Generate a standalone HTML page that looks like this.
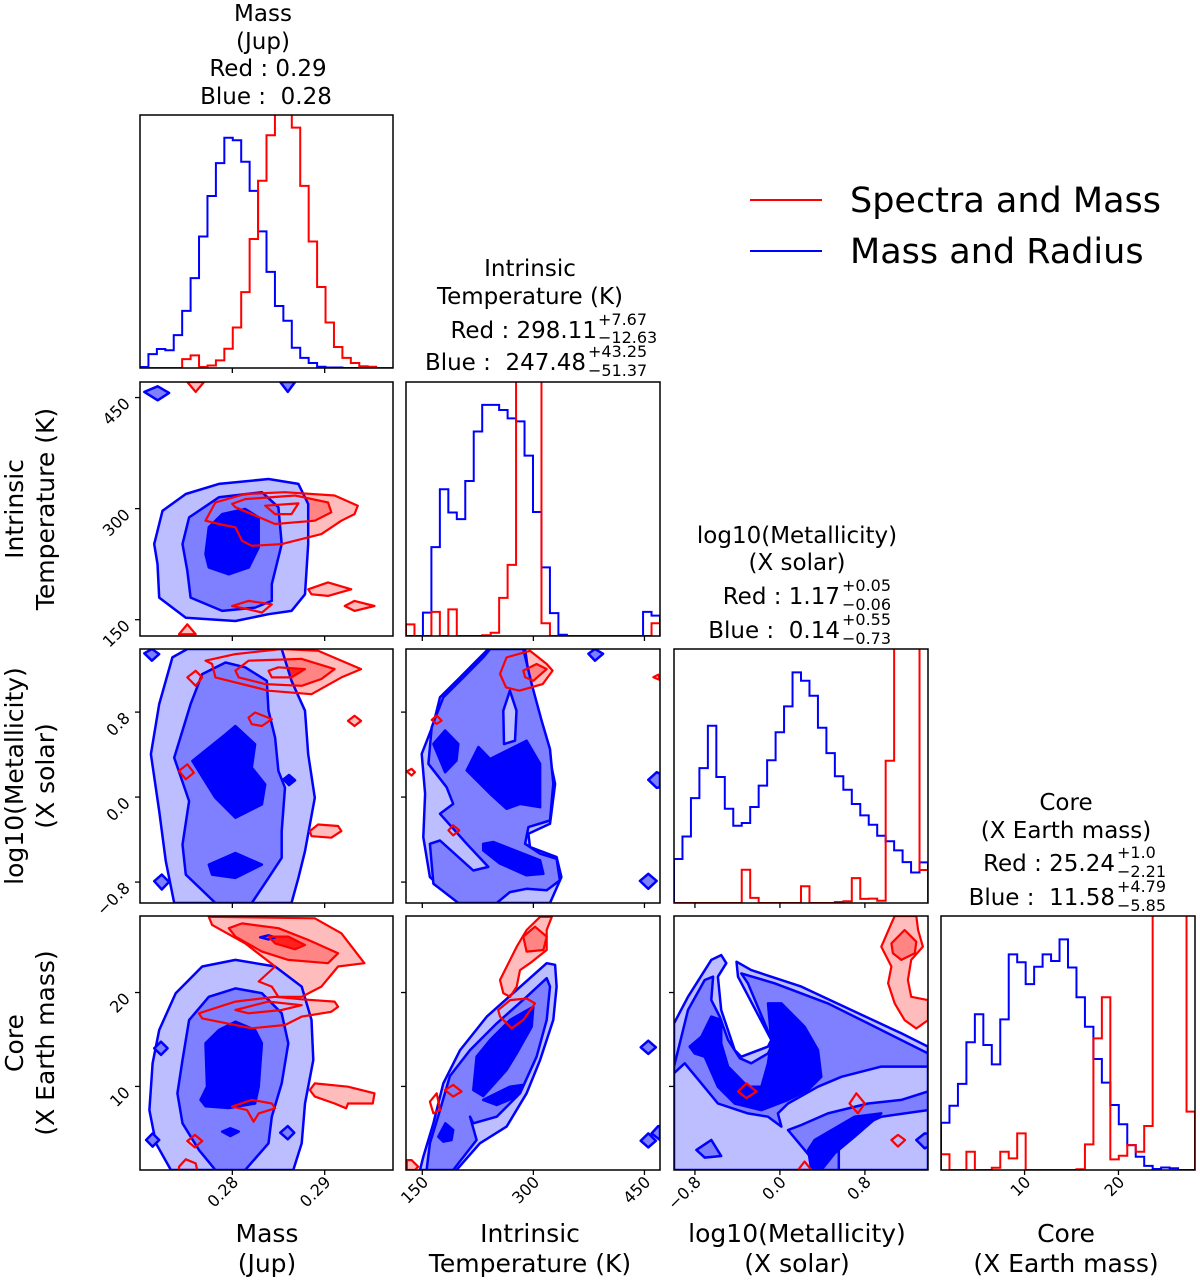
<!DOCTYPE html>
<html><head><meta charset="utf-8"><style>
html,body{margin:0;padding:0;background:#fff}
svg{display:block;font-family:"DejaVu Sans","Liberation Sans",sans-serif}
text{white-space:pre}
</style></head><body>
<svg id="fig" width="1200" height="1281" viewBox="0 0 1200 1281" xmlns="http://www.w3.org/2000/svg">
<g id="marks"></g>
<g id="frames"></g>
<g id="texts" font-size="23" fill="#000">
 <g text-anchor="middle">
  <text x="263" y="21">Mass</text><text x="263" y="49">(Jup)</text>
  <text x="268" y="76">Red : 0.29</text><text x="266" y="104">Blue :  0.28</text>
 </g>
 <g>
  <text x="530" y="276" text-anchor="middle">Intrinsic</text>
  <text x="530" y="304" text-anchor="middle">Temperature (K)</text>
  <text x="597" y="338" text-anchor="end">Red : 298.11</text>
  <text x="598" y="325" font-size="16">+7.67</text><text x="598" y="343" font-size="16">−12.63</text>
  <text x="586" y="370" text-anchor="end">Blue :  247.48</text>
  <text x="588" y="357" font-size="16">+43.25</text><text x="588" y="376" font-size="16">−51.37</text>
 </g>
 <g>
  <text x="797" y="543" text-anchor="middle">log10(Metallicity)</text>
  <text x="797" y="570" text-anchor="middle">(X solar)</text>
  <text x="840" y="604" text-anchor="end">Red : 1.17</text>
  <text x="842" y="591" font-size="16">+0.05</text><text x="842" y="610" font-size="16">−0.06</text>
  <text x="840" y="638" text-anchor="end">Blue :  0.14</text>
  <text x="842" y="625" font-size="16">+0.55</text><text x="842" y="644" font-size="16">−0.73</text>
 </g>
 <g>
  <text x="1066" y="810" text-anchor="middle">Core</text>
  <text x="1066" y="838" text-anchor="middle">(X Earth mass)</text>
  <text x="1115" y="871" text-anchor="end">Red : 25.24</text>
  <text x="1117" y="858" font-size="16">+1.0</text><text x="1117" y="877" font-size="16">−2.21</text>
  <text x="1115" y="905" text-anchor="end">Blue :  11.58</text>
  <text x="1117" y="892" font-size="16">+4.79</text><text x="1117" y="911" font-size="16">−5.85</text>
 </g>
 <g font-size="25" text-anchor="middle">
  <g><text x="267" y="1242">Mass</text><text x="267" y="1272">(Jup)</text></g>
  <g><text x="530" y="1242">Intrinsic</text><text x="530" y="1272">Temperature (K)</text></g>
  <g><text x="797" y="1242">log10(Metallicity)</text><text x="797" y="1272">(X solar)</text></g>
  <g><text x="1066" y="1242">Core</text><text x="1066" y="1272">(X Earth mass)</text></g>
  <g><text transform="translate(23,509) rotate(-90)">Intrinsic</text><text transform="translate(54,509) rotate(-90)">Temperature (K)</text></g>
  <g><text transform="translate(23,776) rotate(-90)">log10(Metallicity)</text><text transform="translate(54,776) rotate(-90)">(X solar)</text></g>
  <g><text transform="translate(23,1043) rotate(-90)">Core</text><text transform="translate(54,1043) rotate(-90)">(X Earth mass)</text></g>
 </g>
 <g font-size="35">
  <g><line x1="750" y1="200" x2="822" y2="200" stroke="#ff0000" stroke-width="2"/><text x="850" y="212">Spectra and Mass</text></g>
  <g><line x1="750" y1="251" x2="822" y2="251" stroke="#0000ff" stroke-width="2"/><text x="850" y="263">Mass and Radius</text></g>
 </g>
</g>
</svg>
<script>
// ---- data ----
const massRange=[0.2700,0.2974];
const tempRange=[128,471];
const metalRange=[-0.997,1.394];
const coreRange=[1.1,28.15];
const massTicks=[0.28,0.29];
const massTickLabels=["0.28","0.29"];
const tempTicks=[150,300,450];
const tempTickLabels=["150","300","450"];
const metalTicks=[-0.8,0.0,0.8];
const metalTickLabels=["−0.8","0.0","0.8"];
const coreTicks=[10,20];
const coreTickLabels=["10","20"];
const massBlue=[0.004,0.055,0.075,0.07,0.13,0.226,0.355,0.52,0.68,0.81,0.91,0.9,0.815,0.70,0.54,0.38,0.245,0.187,0.08,0.04,0.02,0.005,0.002,0.002,0,0,0,0,0,0];
const massRed=[0,0,0,0,0,0.035,0.05,0.004,0.01,0.03,0.076,0.16,0.3,0.51,0.74,0.92,1.05,1.05,0.95,0.72,0.5,0.32,0.18,0.083,0.04,0.02,0.007,0.005,0,0];
const tempBlue=[0,0,0.092,0.35,0.578,0.486,0.46,0.61,0.805,0.91,0.91,0.89,0.857,0.845,0.71,0.488,0.27,0.09,0.005,0,0,0,0,0,0,0,0,0,0.095,0.08];
const tempRed=[0.046,0,0,0.095,0,0.105,0,0,0,0.003,0.013,0.15,0.28,1.05,1.05,1.05,0.05,0,0,0,0,0,0,0,0,0,0,0,0,0.05];
const metalBlue=[0.173,0.262,0.413,0.531,0.698,0.496,0.371,0.304,0.315,0.378,0.462,0.562,0.672,0.774,0.908,0.875,0.816,0.69,0.59,0.499,0.446,0.39,0.345,0.308,0.265,0.243,0.207,0.161,0.12,0.16];
const metalRed=[0,0,0,0,0,0,0,0,0.131,0.02,0,0,0,0,0,0.066,0,0,0,0.004,0.007,0.098,0.016,0.017,0.009,0.56,1.05,1.05,1.05,0.13];
const coreBlue=[0.186,0.253,0.339,0.503,0.613,0.492,0.416,0.593,0.849,0.818,0.732,0.8,0.849,0.823,0.908,0.797,0.68,0.564,0.437,0.344,0.256,0.18,0.098,0.052,0.016,0.004,0.01,0.007,0,0];
const coreRed=[0.062,0,0,0.072,0,0,0.009,0.072,0.046,0.144,0,0,0,0,0,0,0.003,0.101,0.518,0.68,0.042,0.056,0.098,0.072,0.173,1.05,1.05,1.05,1.05,0.23];
// contour vertices in axis-normalised percent units (x from left, y from top of each variable range)
const contourMT=[
 ['rL',[25.9,54.6,29.8,47.4,41.6,44.1,57.3,43.4,76.9,44.7,86.1,48.7,84.8,52,79.6,54.6,71.7,59.9,56,63.8,44.2,64.5,40.3,62.5,37.7,57.2,31.2,55.9]],
 ['rM',[36.4,48,41.6,46.1,61.3,44.7,74.3,47.4,75.6,51.3,69.1,54.6,53.4,55.9,37.7,49.3]],
 ['rL',[49.5,48.7,62.6,47.8,59.9,52,53.4,52]],
 ['rL',[66.5,81.6,74.3,78.9,83.5,81.6,74.3,84.2,67.8,83.6]],
 ['rL',[80.9,88.2,84.8,86.2,92.7,88.2,84.8,90.1]],
 ['rN',[36.4,88.2,42.9,86.2,52.1,87.5,48.2,90.8,42.9,89.5]],
 ['rL',[18.7,0,25.3,0,22,3.9]],
 ['rL',[15.4,99.3,18.7,95.4,22,99.3]],
 ['bL',[5.6,63.8,7.6,55.9,8.9,50.7,18.1,44.1,31.2,40.1,50.8,38.2,62.6,40.1,66.5,48,66.5,63.8,65.2,83.6,59.9,90.1,50.8,91.4,37.7,94.1,18.1,92.8,7.6,84.9,6.9,71.7]],
 ['bM',[16.8,63.8,19.4,53.3,31.2,45.4,48.2,43.4,54.7,49.3,56,63.8,52.1,79.6,52.1,86.2,45.5,88.8,32.5,90.1,20,84.9,18.7,74.3]],
 ['bD',[25.9,67.8,27.2,57.2,32.5,52,41.6,50,46.9,53.3,46.9,65.1,43,73,35.1,75.7,27.2,73]],
 ['bM',[1.7,3.9,7,1.7,11.5,4.3,7,7.2]],
 ['bM',[55.4,0,61.3,0,58.4,3.9]]
];
const contourMZ=[
 ['rL',[25.9,4.6,37.7,2,56,0,70.4,0.7,87.4,7.9,79.6,11.2,67.8,17.8,50.8,16.4,29.8,11.2,28.5,5.9]],
 ['rM',[37.7,8.6,42.9,4.6,63.9,3.9,76.9,7.9,71.7,11.8,63.9,14.5,49.5,13.8,39,11.2]],
 ['rD',[50.8,8.6,54.7,7.2,65.2,7.9,59.9,11.2,52.1,11.2]],
 ['rN',[18.7,11.2,22,8.6,24.6,11.2,22,14.5]],
 ['rL',[42.9,27,45.5,25,52.1,27.6,48.2,30.3,44.2,29.6]],
 ['rL',[82.2,28.3,84.8,26.3,87.4,28.3,84.8,30.3]],
 ['rN',[15.4,48,18.7,45.4,21.3,48.7,18.1,51.3]],
 ['rL',[67.1,71.7,70.4,69.1,78.3,69.7,79.6,71.7,75.6,74.3,67.8,73.7]],
 ['bL',[13.5,100,10.2,83.6,7.6,63.8,4.3,41.4,7.6,21.7,12.8,3.3,18.7,0,56,0,59.9,12.5,65.2,24.3,66.5,41.4,69.1,58.6,65.2,79.6,62.6,90.1,59.9,100]],
 ['bM',[29.8,100,18.1,88.8,16.8,77,19.4,59.9,13.5,42.8,20,21.7,24.6,9.9,33.8,5.3,41.6,7.2,50.1,12.5,50.8,24.3,53.4,34.9,54.7,48,57.3,54.6,56,71.7,56,82.2,50.8,90.1,44.2,100]],
 ['bD',[20.7,44.1,33.8,33.6,37.7,30.3,45.5,37.5,44.2,46.7,49.5,53.3,48.2,61.2,37.7,66.4,29.8,58.6]],
 ['bD',[27.2,84.9,37.7,80.3,48.2,84.9,37.7,90.1,28.5,88.8]],
 ['bM',[1.7,1.7,4.7,0,7.6,2,4.7,4.6]],
 ['bM',[5.6,91.4,8.6,88.8,11.5,91.7,8.6,94.7]],
 ['bD',[56.7,51.3,58.9,49.6,61.3,51.7,58.9,53.6]]
];
const contourTZ=[
 ['rL',[37,9.8,39.6,3.3,48.8,0.7,55.4,5.9,57.7,8.5,53.8,13.8,44.6,16.4,39.4,15.1]],
 ['rM',[46.2,8.5,51.4,5.9,55.4,7.9,50.1,12.5,46.9,11.1]],
 ['rN',[10.1,27.9,12.1,26.2,14,28.2,12.1,29.5]],
 ['rN',[0.3,48.2,2.2,47.2,3.5,48.5,2.2,49.8]],
 ['rN',[16.7,71.4,18.6,69.4,21,71.4,18.6,73.4]],
 ['rN',[97.4,11.1,99.3,10.1,100,12.2]],
 ['bL',[20.6,100,9.4,89.8,6.8,74.1,7.5,57,6.2,41.3,10.8,29.5,13.4,19,21.3,11.2,29.1,3.3,32.4,0,46.9,0,48.8,13.8,52.8,26.9,55.4,37.4,58.7,53.1,56.7,68.8,48.2,72.7,48.8,78,59.3,81.9,61.2,89.8,56.7,100]],
 ['bM',[20.6,100,10.8,92.4,9.4,76.7,13.4,75.4,26.5,87.2,32.4,85.8,23.9,76.7,13.4,64.9,18.6,61,16,54.4,8.8,45.2,10.1,30.8,14.7,19,22.6,11.2,30.4,3.3,33.1,0,46.2,0,49.5,13.8,53.4,28.2,56.7,39.4,58,53,56.7,67.5,48.2,70.1,46.9,76.7,52.8,80.6,59.3,82.6,60.6,91.1,55.4,95,47.5,94.4,40.9,95.7,35.7,100]],
 ['bL',[38.3,24.3,40.9,16.4,43.5,24.3,42.9,36.1,38.6,37.4]],
 ['bD',[10.8,37.4,15.4,32.1,20.6,37.4,19.9,43.9,15.4,48.5]],
 ['bD',[23.9,47.8,28.5,38.6,33.1,43.3,47.5,36.1,52.8,45.2,52.8,62.3,44.9,61,39.6,62.9,33.1,57,26.5,50.4]],
 ['bD',[30.4,76.7,34.4,76,52.8,83.2,54.1,88.5,47.5,89.1,37,84.5,30.4,79.3]],
 ['bM',[71.8,1.9,74.4,0,77.6,1.9,74.4,4.6]],
 ['bM',[95.4,51.5,98.7,48.5,100,49.1,100,54.4,98.7,54.7]],
 ['bM',[92.1,91.3,95.4,88.5,98.7,91.3,95.4,94.4]]
];
const contourMC=[
 ['rL',[27.2,0.3,69.1,0.9,79.6,6.8,88.7,18.6,78.3,19.9,71.7,27.8,63.9,31.8,54.7,31.8,52.1,27.8,46.9,25.8,53.4,19.9,41.6,10.8,28.5,3.5]],
 ['rM',[35.1,4.8,40.3,2.9,54.7,4.8,66.5,9.4,78.3,14.7,74.3,18.6,58.6,17.3,48.2,14,37.7,8.1]],
 ['rD',[50.8,8.1,58.6,8.1,65.2,11.4,61.3,13.1,53.4,10.8]],
 ['rL',[23.3,38.3,37.7,33.7,53.4,31.8,63.9,32.8,76.9,33.7,78.3,35.7,75.6,37.7,63.9,39.6,57.3,42.9,44.2,44.2,24.6,40.3]],
 ['rN',[37.7,37,50.8,33.7,63.9,35.1,56,37,42.9,38.3]],
 ['rL',[67.1,68.5,69.1,65.9,82.2,67.2,92.7,69.8,92,73.8,82.2,73.8,81.5,75.7,76.9,73.8,69.1,71.1]],
 ['rN',[36.4,75,44.2,72.4,52.1,73.8,53.4,75.7,46.9,77.7,44.9,81,42.3,76.4]],
 ['rN',[18.7,88.6,21.7,86.2,24.6,88.6,21.7,91.1]],
 ['rL',[15.4,98.7,18.1,95.8,22,97.4,22.6,100,15.4,100]],
 ['bL',[12.2,100,6.3,89.5,3.7,76.4,5,58,7.6,44.9,14.1,30.4,24.6,19.9,37.7,17.3,53.4,19.9,63.9,27.8,67.8,40.9,68.5,56.7,65.2,73.8,63.9,89.5,60.6,100]],
 ['bM',[29.8,100,23.3,92.1,16.8,81.6,14.8,69.8,16.8,56.7,19.4,41,27.2,31.8,37.7,28.5,48.2,30.4,56,38.3,58.6,50.1,56,65.9,52.1,79,50.8,89.5,41.6,100]],
 ['bD',[23.9,72.4,26.5,67.2,25.9,50.1,31.2,44.9,37.7,41.6,45.5,44.9,48.2,50.1,46.9,67.2,45.5,73.8,35.1,75.6,25.9,74.9]],
 ['bD',[32.5,84.9,35.7,83.6,39,84.9,35.7,86.6]],
 ['bM',[5.6,52.1,8.3,49.5,10.9,52.1,8.3,54.7]],
 ['bM',[2.4,88.2,5,85.6,7.6,88.2,5,90.8]],
 ['bM',[55.4,85.3,58.4,82.7,61,85.3,58.4,87.9]],
 ['bM',[47.5,8.4,50.8,7.6,53.4,8.4,50.8,9.2]]
];
const contourTC=[
 ['rL',[37,25.2,43.6,12.1,47.5,5.5,52.8,0.3,57.4,0.3,55.4,5.5,55.4,13.4,48.8,18.6,44.9,21.3,43.6,27.8,41,31.8,38.3,30.4]],
 ['rM',[46.2,8.1,50.8,4.2,55.4,8.1,54.1,13.4,47.5,14]],
 ['rN',[36.3,37,41,33.1,47.5,32.5,50.8,34.4,46.2,40.9,41.6,44.2,37,39.6]],
 ['rN',[15.3,68.5,18.6,66.5,21.9,69.1,18.6,71.1]],
 ['rN',[9.4,73.1,12.1,69.8,13.4,76.4,10.8,77.7]],
 ['rL',[0.3,96.1,2.2,96.1,4.8,98.7,3.5,100,0.3,100]],
 ['bL',[5.5,100,6.8,94.8,10.8,81.6,14.7,65.9,21.3,52.8,31.8,39.6,43.6,29.1,55.4,18.6,58.7,19.2,59.3,27.8,58,40.9,52.8,56.7,47.5,69.8,39.6,82.9,29.1,89.5,19.9,100]],
 ['bM',[8.1,100,9.4,89.5,13.4,76.4,17.3,63,25.2,52.8,35.7,42.3,47.5,31.8,55.4,24.5,56.7,27.8,55.4,40.9,51.4,55.4,44.9,69.8,35.7,79,26.5,81.6,25.2,79,27.8,88.2,18.6,100]],
 ['bD',[26.5,68.5,27.8,55.4,33.1,48.8,41,40.9,50.1,35.7,49.5,43.6,43.6,54.1,39.6,60.6,30.4,70.9]],
 ['bD',[30.4,72.4,40.9,67.2,46.2,66.5,43.6,71.1,35.7,74.4]],
 ['bD',[12.7,86.9,15.5,81.6,18.6,84.3,17.9,88.2,14.7,88.8]],
 ['bM',[92.4,51.7,95.4,49.1,98.4,51.7,95.4,54.3]],
 ['bM',[92.4,88.5,95.4,85.6,98.4,88.5,95.4,91.1]],
 ['bM',[96.7,85.6,99.3,82.7,100,83,100,88.2]]
];
const contourZC=[
 ['rL',[81.6,12.1,85.6,2.9,86.9,0,95.4,0,96.1,5.5,98,12.1,93.4,17.3,92.1,25.2,93.4,31.8,100,33.1,100,41,95.4,44.3,90.8,41,86.9,34.4,84.3,26.5,85.6,19.9]],
 ['rM',[85.6,10.8,90.8,5.5,95.4,10.1,94.8,14.7,89.5,17.3,86.2,14.7]],
 ['rN',[25.2,69.1,28.5,65.9,32.5,69.1,28.5,71.7]],
 ['rN',[69.1,73.8,71.8,69.8,75.1,73.8,72.4,77.7]],
 ['rN',[85.6,88.2,88.2,86.2,91,88.2,88.2,90.8]],
 ['rN',[48.8,100,51.4,96.7,54.1,100]],
 ['bL',[0,100,0,42.3,5.5,31.8,14.7,17.3,18.6,15.4,20.6,18.6,17.3,23.9,18.6,37,23.9,52.8,26.5,55.4,37,51.4,38.3,48.8,25.2,23.9,24.6,18,30.4,21.3,50.1,27.8,69.8,37,89.5,46.2,100,51.4,100,100]],
 ['bM',[0,59.3,1.6,52.8,5.5,37,12.1,25.2,15.4,23.9,14.7,33.1,18,39.6,21.3,48.8,25.9,56,30.4,58,37,54.1,39,50.1,29.1,26.5,26.5,22.6,39.6,26.5,60.6,34.4,76.4,42.3,100,54.1,100,59.3,81.6,59.3,65.9,63.3,56.7,67.2,44.9,73.8,40.9,77.7,42.3,82.9,37,79,29.1,77.7,17.3,73.8,10.8,65.9,4.2,58,0,61.9]],
 ['bM',[44.9,84.3,50.1,82.3,60.6,77.7,76.4,73.8,89.5,72.4,100,69.1,100,76.4,81.6,79,70.1,84.3,64.9,89.5,64.9,100,58,100,51.4,92.1]],
 ['bM',[8.8,92.1,14.7,88.2,18.6,94.5,12.1,95.1]],
 ['bD',[6.2,51.4,10.8,47.5,14.7,39.6,18.6,40.9,18.6,50.1,21.3,59.3,29.1,67.2,34.4,67.2,37,58,38.3,48.8,37,34.4,42.3,34.4,51.4,43.6,56.7,52.8,58,63.3,52.8,68.5,44.9,72.4,34.4,76.4,23.9,73.8,17.3,67.2,12.1,55.4,8.1,54.1]],
 ['bD',[52.8,92.1,55.4,88.2,71.1,79,81.6,77.7,71.1,86.9,63.3,93.4,58,100,54.1,100]],
 ['bM',[95.4,88.2,98.7,85.6,100,85.8,100,90.8,98.7,91.5]]
];
// ---- layout ----
const NS="http://www.w3.org/2000/svg";
const cols=[[140,393],[406,660],[674,928],[941,1195]];
const rows=[[115,368],[382,636],[649,903],[916,1170]];
const ranges=[massRange,tempRange,metalRange,coreRange];
const ticks=[massTicks,tempTicks,metalTicks,coreTicks];
const tickLabels=[massTickLabels,tempTickLabels,metalTickLabels,coreTickLabels];
const names=['mass','temperature','metallicity','core'];
function axX(i){const r=ranges[i],c=cols[i];return v=>c[0]+(v-r[0])/(r[1]-r[0])*(c[1]-c[0]);}
function axY(j){const r=ranges[j],w=rows[j];return v=>w[1]-(v-r[0])/(r[1]-r[0])*(w[1]-w[0]);}
const marks=document.getElementById('marks'),frames=document.getElementById('frames');
function mk(tag,attrs,parent){const e=document.createElementNS(NS,tag);for(const k in attrs)e.setAttribute(k,attrs[k]);parent.appendChild(e);return e;}
const defs=mk('defs',{},marks);
function clipFor(i,j){const id='c'+i+'_'+j;const cp=mk('clipPath',{id:id},defs);mk('rect',{x:cols[i][0],y:rows[j][0],width:cols[i][1]-cols[i][0],height:rows[j][1]-rows[j][0]},cp);return 'url(#'+id+')';}
// histograms
const hists=[[massBlue,massRed],[tempBlue,tempRed],[metalBlue,metalRed],[coreBlue,coreRed]];
hists.forEach((h,i)=>{
 const g=mk('g',{'clip-path':clipFor(i,i)},marks);
 
 
 const sx=axX(i),r=ranges[i],y0=rows[i][1],H=rows[i][1]-rows[i][0];
 [[h[0],'#0000ff','blue'],[h[1],'#ff0000','red']].forEach(([vals,col,nm])=>{
  const n=vals.length,bw=(r[1]-r[0])/n;let d='M'+sx(r[0])+','+y0;
  vals.forEach((v,k)=>{const yy=y0-v*H;d+=' L'+sx(r[0]+k*bw)+','+yy+' L'+sx(r[0]+(k+1)*bw)+','+yy;});
  d+=' L'+sx(r[1])+','+y0;
  const p=mk('path',{d:d,fill:'none',stroke:col,'stroke-width':2},g);
  
  
 });
});
// contours
const fills={bL:'#bcbeff',bM:'#7e80ff',bD:'#0000ff',rL:'#ffbcbc',rM:'#ff8484',rD:'#ff2020',rN:'none'};
const panels=[[0,1,contourMT],[0,2,contourMZ],[1,2,contourTZ],[0,3,contourMC],[1,3,contourTC],[2,3,contourZC]];
panels.forEach(([i,j,list])=>{
 const g=mk('g',{'clip-path':clipFor(i,j)},marks);
 
 
 const sx=axX(i),sy=axY(j),rx=ranges[i],ry=ranges[j];
 const toD=pts=>{let d='';for(let k=0;k<pts.length;k+=2){const vx=rx[0]+pts[k]/100*(rx[1]-rx[0]);const vy=ry[1]-pts[k+1]/100*(ry[1]-ry[0]);d+=(k?' L':'M')+sx(vx).toFixed(1)+','+sy(vy).toFixed(1);}return d+' Z';};
 list.filter(c=>c[0][0]==='r'&&c[0]!=='rN').forEach(c=>{mk('path',{d:toD(c[1]),fill:fills[c[0]],stroke:'none'},g);});
 list.filter(c=>c[0][0]==='b').forEach(c=>{const p=mk('path',{d:toD(c[1]),fill:fills[c[0]],stroke:'#0000ff','stroke-width':2.5,'stroke-linejoin':'round'},g);
  
  });
 list.filter(c=>c[0][0]==='r').forEach(c=>{const p=mk('path',{d:toD(c[1]),fill:'none',stroke:'#ff0000','stroke-width':2.2,'stroke-linejoin':'round'},g);
  
  });
});
// frames and ticks
for(let j=0;j<4;j++)for(let i=0;i<=j;i++){
 const f=mk('rect',{x:cols[i][0],y:rows[j][0],width:cols[i][1]-cols[i][0],height:rows[j][1]-rows[j][0],fill:'none',stroke:'#000','stroke-width':1.5},frames);
 
 
 const sx=axX(i);
 ticks[i].forEach((t,k)=>{const x=sx(t);mk('line',{x1:x,x2:x,y1:rows[j][1],y2:rows[j][1]+5,stroke:'#000','stroke-width':1.3},frames);
  if(j===3){const tx=mk('text',{x:x+7,y:1183,'text-anchor':'end','font-size':16,transform:'rotate(-45 '+(x+7)+' 1183)'},frames);tx.textContent=tickLabels[i][k];
   
   }});
 if(i<j){const sy=axY(j);
  ticks[j].forEach((t,k)=>{const y=sy(t);mk('line',{x1:cols[i][0]-5,x2:cols[i][0],y1:y,y2:y,stroke:'#000','stroke-width':1.3},frames);
   if(i===0){const tx=mk('text',{x:131,y:y+7,'text-anchor':'end','font-size':16,transform:'rotate(-45 131 '+(y+7)+')'},frames);tx.textContent=tickLabels[j][k];
    
    }});}
}
</script>
</body></html>
